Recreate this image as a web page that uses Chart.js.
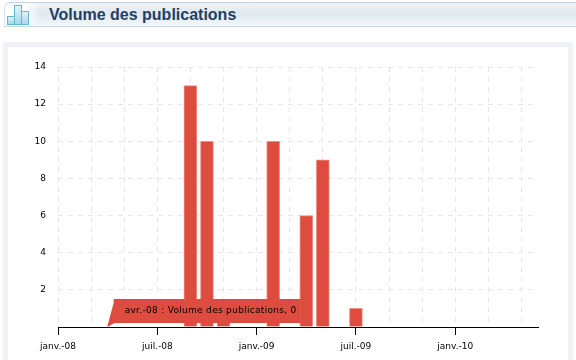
<!DOCTYPE html>
<html><head><meta charset="utf-8">
<script src="https://cdn.jsdelivr.net/npm/chart.js@4"></script>
<style>
html,body{margin:0;padding:0;background:#fff;width:576px;height:360px;overflow:hidden}
#hdr{position:absolute;left:4px;top:2px;width:572px;height:25px;box-sizing:border-box;border-top:1px solid #bfd8e4;border-bottom:1px solid #bfd8e4;border-left:1px solid #d5e5ec;border-top-left-radius:6px;background:linear-gradient(90deg,#fff 0,#fff 20px,rgba(255,255,255,0) 34px),linear-gradient(180deg,#eef3f6 0,#e0e9f0 45%,#f3f7fa 100%)}
#title{position:absolute;left:49px;top:4px;font:bold 16px "Liberation Sans",Arial,sans-serif;color:#1f3f63;line-height:22px;white-space:nowrap}
.b{position:absolute;box-sizing:border-box;border:1px solid #62b9d3;background:linear-gradient(180deg,#dff2f7,#a5d9e8)}
#panel{position:absolute;left:3px;top:42px;width:570px;height:330px;box-sizing:border-box;border:5px solid #eff3f7;background:#fff}
canvas{position:absolute;left:0;top:0}
</style></head><body>
<div id="hdr"></div>
<div class="b" style="left:7px;top:16px;width:8px;height:9px"></div>
<div class="b" style="left:14px;top:5px;width:8px;height:20px"></div>
<div class="b" style="left:21px;top:11px;width:8px;height:14px"></div>
<div id="title">Volume des publications</div>
<div id="panel"></div>
<canvas id="c" width="576" height="360"></canvas>
<script>
const categories = ["janv.-08","févr.-08","mars-08","avr.-08","mai-08","juin-08","juil.-08","août-08","sept.-08","oct.-08","nov.-08","déc.-08","janv.-09","févr.-09","mars-09","avr.-09","mai-09","juin-09","juil.-09","août-09","sept.-09","oct.-09","nov.-09","déc.-09","janv.-10","févr.-10","mars-10","avr.-10","mai-10","juin-10"];
const values = [0,0,0,0,0,0,0,0,13,10,1,0,0,10,0,6,9,0,1,0,0,0,0,0,0,0,0,0,0,0];
const seriesName = "Volume des publications";
const yTicks = [2,4,6,8,10,12,14];
const highlighted = 3;
const red = "#dd4c3e";
const tickFont = {family:"'DejaVu Sans'",size:9};

const calloutPlugin = {
  id:"callout",
  afterDatasetsDraw(chart){
    const g = chart.ctx, x = chart.scales.x.getPixelForValue(highlighted), y = chart.scales.y.getPixelForValue(values[highlighted]);
    g.save();
    g.fillStyle = red;
    g.beginPath();
    g.moveTo(x-0.5,y);
    g.lineTo(x+6,y-24);
    g.lineTo(x+6,y-28);
    g.lineTo(x+193,y-28);
    g.lineTo(x+193,y-4);
    g.lineTo(x+7,y-4);
    g.closePath();
    g.fill();
    g.fillStyle = "#000";
    g.font = "9px 'DejaVu Sans'";
    g.letterSpacing = "0.3px";
    g.textBaseline = "middle";
    g.fillText(categories[highlighted]+" : "+seriesName+", "+values[highlighted], x+17, y-16);
    g.restore();
  }
};

new Chart(document.getElementById("c"),{
  type:"bar",
  data:{labels:categories,datasets:[{label:seriesName,data:values,backgroundColor:red,borderColor:"#ef9089",borderWidth:{left:1,right:1,top:1,bottom:0},barThickness:13}]},
  plugins:[calloutPlugin],
  options:{
    responsive:false,animation:false,
    layout:{padding:{top:67,right:38,left:0,bottom:0}},
    plugins:{legend:{display:false},tooltip:{enabled:false},title:{display:false}},
    scales:{
      x:{
        offset:false,
        afterFit(s){s.height=33},
        border:{color:"#000",width:1,dash:[5,5]},
        grid:{
          offset:false,
          color:c=>c.index%2===0?"#e6e6e6":"rgba(0,0,0,0)",
          tickColor:c=>c.index%6===0?"#000":"rgba(0,0,0,0)",
          tickBorderDash:[],
          tickLength:8,drawOnChartArea:true
        },
        ticks:{autoSkip:false,maxRotation:0,minRotation:0,color:"#000",font:tickFont,padding:6,
          callback(v,i){return i%6===0?categories[i]:""}}
      },
      y:{
        min:0,max:14,
        afterFit(s){s.width=58},
        afterBuildTicks(s){s.ticks=[0].concat(yTicks).map(v=>({value:v}))},
        border:{display:false,dash:[5,5]},
        grid:{color:c=>c.tick&&c.tick.value===0?"rgba(0,0,0,0)":"#e6e6e6",drawTicks:false},
        ticks:{color:"#000",font:tickFont,padding:12,callback:v=>v===0?"":String(v)}
      }
    }
  }
});
</script>
</body></html>
